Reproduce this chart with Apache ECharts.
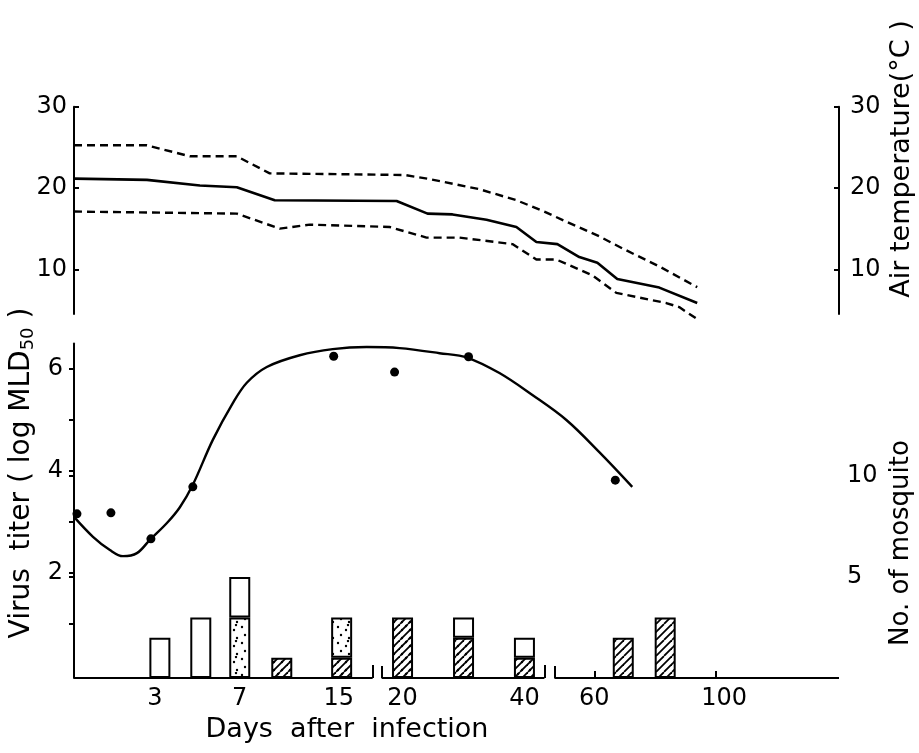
<!DOCTYPE html>
<html>
<head>
<meta charset="utf-8">
<script src="https://cdn.jsdelivr.net/npm/echarts@6/dist/echarts.min.js"></script>
<style>
  html, body { margin: 0; padding: 0; background: #fff; }
  #chart { width: 919px; height: 753px; }
</style>
</head>
<body>
<div id="chart"></div>
<script>
// x = position along the hand drawn (broken, non linear) time axis, 0..75
const dayLabels = ['3', '7', '15', '20', '40', '60', '100'];
const dayLabelPos = [7.93, 16.25, 25.95, 32.21, 44.16, 51.0, 63.74];
const dayTickPos = [51.1, 62.96];
const axisPieces = [[0, 29.28], [30.16, 46.12], [47.1, 75]];

// air temperature (°C)
const tMaxX = [0, 7.15, 11.36, 15.96, 19.19, 32.41, 34.86, 39.75, 43.37, 46.11, 48.36, 51.5, 53.95, 57.38, 61.1];
const tMax = [25.25, 25.25, 23.9, 23.9, 21.8, 21.6, 21.1, 19.85, 18.5, 17.1, 15.8, 14.05, 12.45, 10.35, 7.8];
const tMeanX = [0, 7.15, 12.34, 15.96, 19.68, 31.63, 34.66, 37.11, 40.44, 43.37, 45.33, 47.39, 49.54, 51.31, 53.26, 57.38, 61.1];
const tMean = [21.15, 21.0, 20.3, 20.1, 18.5, 18.4, 16.85, 16.75, 16.1, 15.2, 13.35, 13.1, 11.5, 10.8, 8.8, 7.75, 5.85];
const tMinX = [0, 15.96, 20.17, 23.11, 30.94, 34.56, 37.79, 42.98, 45.33, 47.29, 50.82, 53.17, 58.06, 59.33, 61.0];
const tMin = [17.1, 16.85, 15.0, 15.5, 15.2, 13.9, 13.9, 13.1, 11.2, 11.2, 9.25, 7.1, 5.85, 5.35, 3.95];

const titerX = [0.29, 3.62, 7.54, 11.65, 25.46, 31.43, 38.68, 53.07];
const titer = [3.16, 3.18, 2.67, 3.69, 6.25, 5.94, 6.24, 3.82];
const curveX = [0, 1.86, 3.52, 4.8, 6.17, 7.44, 9.11, 10.38, 11.65, 13.61, 15.57, 16.94, 18.9, 22.13, 25.36, 28.69, 31.92, 35.84, 38.58, 41.71, 44.94, 48.27, 51.5, 54.73];
const curve = [3.1, 2.71, 2.45, 2.33, 2.39, 2.65, 2.98, 3.29, 3.73, 4.61, 5.33, 5.73, 6.04, 6.27, 6.39, 6.43, 6.41, 6.31, 6.22, 5.92, 5.49, 5.0, 4.37, 3.69];

// no. of mosquito per sampling
const barX = [8.42, 12.43, 16.25, 20.37, 26.24, 32.21, 38.19, 44.16, 53.85, 57.96];
const nHatchDot = [0, 0, 0, 1, 1, 3, 2, 1, 0, 0];
const nDotted = [0, 0, 3, 0, 2, 0, 0, 0, 0, 0];
const nOpen = [2, 3, 2, 0, 0, 0, 1, 1, 0, 0];
const nHatched = [0, 0, 0, 0, 0, 0, 0, 0, 2, 3];

const font = 'DejaVu Sans';
const black = '#000';

function pairs(xs, ys) {
  return xs.map((x, i) => [x, ys[i]]);
}
// count first so the stack runs on the count dimension (x is value type too);
// zero counts become empty so they don't draw flat boxes
function barData(vals) {
  return barX.map((x, i) => [vals[i] > 0 ? vals[i] : '-', x]);
}

function pattern(hatch, dots) {
  const n = 16;
  const c = document.createElement('canvas');
  c.width = n; c.height = n;
  const g = c.getContext('2d');
  g.fillStyle = '#fff';
  g.fillRect(0, 0, n, n);
  g.fillStyle = black;
  g.strokeStyle = black;
  if (hatch) {
    g.lineWidth = 1.8;
    for (let o = -n; o <= n; o += 8) {
      g.beginPath();
      g.moveTo(o, n);
      g.lineTo(o + n, 0);
      g.stroke();
    }
  }
  if (dots) {
    const pts = hatch ? [[2, 6], [10, 14], [10, 6], [2, 14], [6, 2]] : [[2, 3], [10, 6], [5, 11], [13, 14], [12, 1]];
    pts.forEach(p => {
      g.beginPath();
      g.arc(p[0], p[1], 1.2, 0, Math.PI * 2);
      g.fill();
    });
  }
  return { image: c, repeat: 'repeat' };
}

// broken x axis baseline, drawn on the mosquito grid
const baseLines = [];
axisPieces.forEach(p => {
  baseLines.push([{ coord: [p[0], 0] }, { coord: [p[1], 0] }]);
  if (p[0] > 0) baseLines.push([{ coord: [p[0], 0] }, { coord: [p[0], 0.6] }]);
  if (p[1] < 75) baseLines.push([{ coord: [p[1], 0] }, { coord: [p[1], 0.65] }]);
});

const tickLabel = { color: black, fontFamily: font, fontSize: 24 };
const axisLine = { show: true, lineStyle: { color: black, width: 2 } };

function barSeries(name, vals, color) {
  return {
    name: name,
    type: 'bar',
    xAxisIndex: 2,
    yAxisIndex: 3,
    stack: 'n',
    barWidth: 21,
    encode: { x: 1, y: 0 },
    data: barData(vals),
    itemStyle: { color: color, borderColor: black, borderWidth: 2 }
  };
}

const chart = echarts.init(document.getElementById('chart'));
chart.setOption({
  animation: false,
  backgroundColor: '#fff',
  grid: [
    { left: 74, right: 80, top: 106.7, height: 207.3 },
    { left: 74, right: 80, top: 343.5, height: 331.5 },
    { left: 74, right: 80, top: 460, height: 218 }
  ],
  xAxis: [
    { gridIndex: 0, type: 'value', min: 0, max: 75, show: false },
    { gridIndex: 1, type: 'value', min: 0, max: 75, show: false },
    {
      gridIndex: 2, type: 'value', min: 0, max: 75,
      axisLine: { show: false },
      splitLine: { show: false },
      axisTick: { show: true, inside: true, length: 7, customValues: dayTickPos, lineStyle: { color: black, width: 2 } },
      axisLabel: Object.assign({
        margin: 9,
        customValues: dayLabelPos,
        formatter: v => dayLabels[dayLabelPos.indexOf(v)] || ''
      }, tickLabel)
    }
  ],
  yAxis: [
    {
      gridIndex: 0, type: 'value', position: 'left', min: 4.5, max: 30,
      axisLine: axisLine, splitLine: { show: false },
      axisTick: { inside: true, length: 5, customValues: [10, 20, 30], lineStyle: { color: black, width: 2 } },
      axisLabel: Object.assign({ margin: 7, customValues: [10, 20, 30] }, tickLabel)
    },
    {
      gridIndex: 0, type: 'value', position: 'right', min: 4.5, max: 30,
      axisLine: axisLine, splitLine: { show: false },
      axisTick: { inside: true, length: 5, customValues: [10, 20, 30], lineStyle: { color: black, width: 2 } },
      axisLabel: Object.assign({ margin: 11, customValues: [10, 20, 30] }, tickLabel)
    },
    {
      gridIndex: 1, type: 'value', position: 'left', min: 0, max: 6.5,
      axisLine: axisLine, splitLine: { show: false },
      axisTick: { inside: false, length: 5, customValues: [1, 2, 3, 4, 5, 6], lineStyle: { color: black, width: 2 } },
      axisLabel: Object.assign({ margin: 11, customValues: [2, 4, 6] }, tickLabel)
    },
    {
      gridIndex: 2, type: 'value', position: 'right', min: 0, max: 10.8,
      axisLine: axisLine, splitLine: { show: false },
      axisTick: { inside: true, length: 5, customValues: [5, 10], lineStyle: { color: black, width: 2 } },
      axisLabel: Object.assign({ margin: 8, customValues: [5, 10] }, tickLabel)
    }
  ],
  series: [
    {
      name: 'max', type: 'line', xAxisIndex: 0, yAxisIndex: 0, symbol: 'none', clip: false,
      data: pairs(tMaxX, tMax),
      lineStyle: { color: black, width: 2.4, type: [8, 5] }
    },
    {
      name: 'mean', type: 'line', xAxisIndex: 0, yAxisIndex: 0, symbol: 'none', clip: false,
      data: pairs(tMeanX, tMean),
      lineStyle: { color: black, width: 2.6 }
    },
    {
      name: 'min', type: 'line', xAxisIndex: 0, yAxisIndex: 0, symbol: 'none', clip: false,
      data: pairs(tMinX, tMin),
      lineStyle: { color: black, width: 2.4, type: [8, 5] }
    },
    barSeries('hatch-dot', nHatchDot, pattern(true, true)),
    barSeries('dotted', nDotted, pattern(false, true)),
    barSeries('open', nOpen, '#fff'),
    barSeries('hatched', nHatched, pattern(true, false)),
    {
      name: 'x axis', type: 'line', xAxisIndex: 2, yAxisIndex: 3, data: [],
      markLine: {
        silent: true,
        symbol: ['none', 'none'],
        label: { show: false },
        lineStyle: { color: black, width: 2, type: 'solid' },
        data: baseLines
      }
    },
    {
      name: 'titer curve', type: 'line', xAxisIndex: 1, yAxisIndex: 2, symbol: 'none',
      smooth: 0.35, clip: false,
      data: pairs(curveX, curve),
      lineStyle: { color: black, width: 2.4 }
    },
    {
      name: 'titer', type: 'scatter', xAxisIndex: 1, yAxisIndex: 2, symbolSize: 9,
      data: pairs(titerX, titer),
      itemStyle: { color: black, opacity: 1 }
    }
  ],
  graphic: [
    {
      type: 'text', x: 22, y: 473, rotation: Math.PI / 2,
      style: {
        text: '{a|Virus  titer ( log MLD}{s|50}{a| )}',
        textAlign: 'center', textVerticalAlign: 'middle',
        fill: black,
        rich: {
          a: { fontFamily: font, fontSize: 28, lineHeight: 30, fill: black },
          s: { fontFamily: font, fontSize: 18, lineHeight: 18, verticalAlign: 'bottom', fill: black }
        }
      }
    },
    {
      type: 'text', x: 902, y: 159, rotation: Math.PI / 2,
      style: { text: 'Air temperature(°C )', font: '27px "DejaVu Sans"', fill: black, textAlign: 'center', textVerticalAlign: 'middle' }
    },
    {
      type: 'text', x: 901, y: 543, rotation: Math.PI / 2,
      style: { text: 'No. of mosquito', font: '26px "DejaVu Sans"', fill: black, textAlign: 'center', textVerticalAlign: 'middle' }
    },
    {
      type: 'text', x: 347, y: 730,
      style: { text: 'Days  after  infection', font: '27px "DejaVu Sans"', fill: black, textAlign: 'center', textVerticalAlign: 'middle' }
    }
  ]
});
</script>
</body>
</html>
